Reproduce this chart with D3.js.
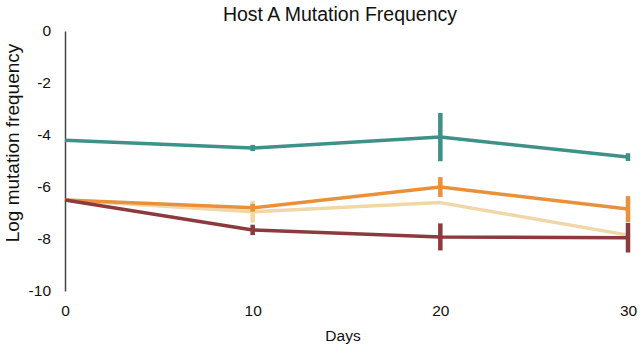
<!DOCTYPE html>
<html>
<head>
<meta charset="utf-8">
<script src="https://cdn.jsdelivr.net/npm/d3@7"></script>
<style>
  body { margin: 0; background: #fff; }
  text { font-family: "Liberation Sans", Arial, sans-serif; fill: #111; }
</style>
</head>
<body>
<div id="chart-area"></div>
<script>
let days = [0, 10, 20, 30];
let yTicks = [0, -2, -4, -6, -8, -10];

let tealValues = [-4.2, -4.5, -4.08, -4.85];
let tealErrors = [0, 0.12, 0.93, 0.15];

let tanValues = [-6.5, -6.95, -6.6, -7.85];
let tanErrors = [0, 0.42, 0, 0];

let orangeValues = [-6.5, -6.8, -6.0, -6.85];
let orangeErrors = [0, 0.15, 0.38, 0.5];

let redValues = [-6.5, -7.65, -7.92, -7.95];
let redErrors = [0, 0.2, 0.52, 0.57];

let series = [
    {name: "tan", values: tanValues, errors: tanErrors, color: "#f1d6a8"},
    {name: "teal", values: tealValues, errors: tealErrors, color: "#3e9188"},
    {name: "orange", values: orangeValues, errors: orangeErrors, color: "#e8913a"},
    {name: "red", values: redValues, errors: redErrors, color: "#8b3b3e"}
];

let margin = {left: 65, right: 12, top: 31, bottom: 56};
let width = 640 - margin.left - margin.right,
    height = 347 - margin.top - margin.bottom;

let svg = d3.select("#chart-area")
    .append("svg")
    .attr("width", 640)
    .attr("height", 347);

let g = svg.append("g")
    .attr("transform", `translate(${margin.left},${margin.top})`);

let x = d3.scaleLinear().domain([0, 30]).range([0, width]);
let y = d3.scaleLinear().domain([-10, 0]).range([height, 0]);

// title
svg.append("text")
    .attr("x", 340)
    .attr("y", 21)
    .attr("text-anchor", "middle")
    .style("font-size", "19.5px")
    .text("Host A Mutation Frequency");

// y axis
let yAxis = g.append("g")
    .call(d3.axisLeft(y).tickValues(yTicks).tickSize(0).tickPadding(14).tickFormat(d => String(d)));
yAxis.select(".domain").attr("stroke", "#444").attr("stroke-width", 1.5);
yAxis.selectAll("text").style("font-size", "15.5px").attr("fill", "#111");

// x axis (labels only)
let xAxis = g.append("g")
    .attr("transform", `translate(0,${height})`)
    .call(d3.axisBottom(x).tickValues(days).tickSize(0).tickPadding(14));
xAxis.select(".domain").remove();
xAxis.selectAll("text").style("font-size", "15.5px").attr("fill", "#111");

// axis titles
svg.append("text")
    .attr("x", 343)
    .attr("y", 341)
    .attr("text-anchor", "middle")
    .style("font-size", "15.5px")
    .text("Days");

svg.append("text")
    .attr("transform", "translate(19,143) rotate(-90)")
    .attr("text-anchor", "middle")
    .style("font-size", "19px")
    .text("Log mutation frequency");

let line = d3.line()
    .x((d, i) => x(days[i]))
    .y(d => y(d));

series.forEach(s => {
    g.append("path")
        .datum(s.values)
        .attr("fill", "none")
        .attr("stroke", s.color)
        .attr("stroke-width", 3.5)
        .attr("stroke-linejoin", "round")
        .attr("d", line);

    g.selectAll(null)
        .data(s.values.map((v, i) => ({day: days[i], v: v, e: s.errors[i]})).filter(d => d.e > 0))
        .enter()
        .append("line")
        .attr("x1", d => x(d.day))
        .attr("x2", d => x(d.day))
        .attr("y1", d => y(d.v + d.e))
        .attr("y2", d => y(d.v - d.e))
        .attr("stroke", s.color)
        .attr("stroke-width", 4.5);
});
</script>
</body>
</html>
